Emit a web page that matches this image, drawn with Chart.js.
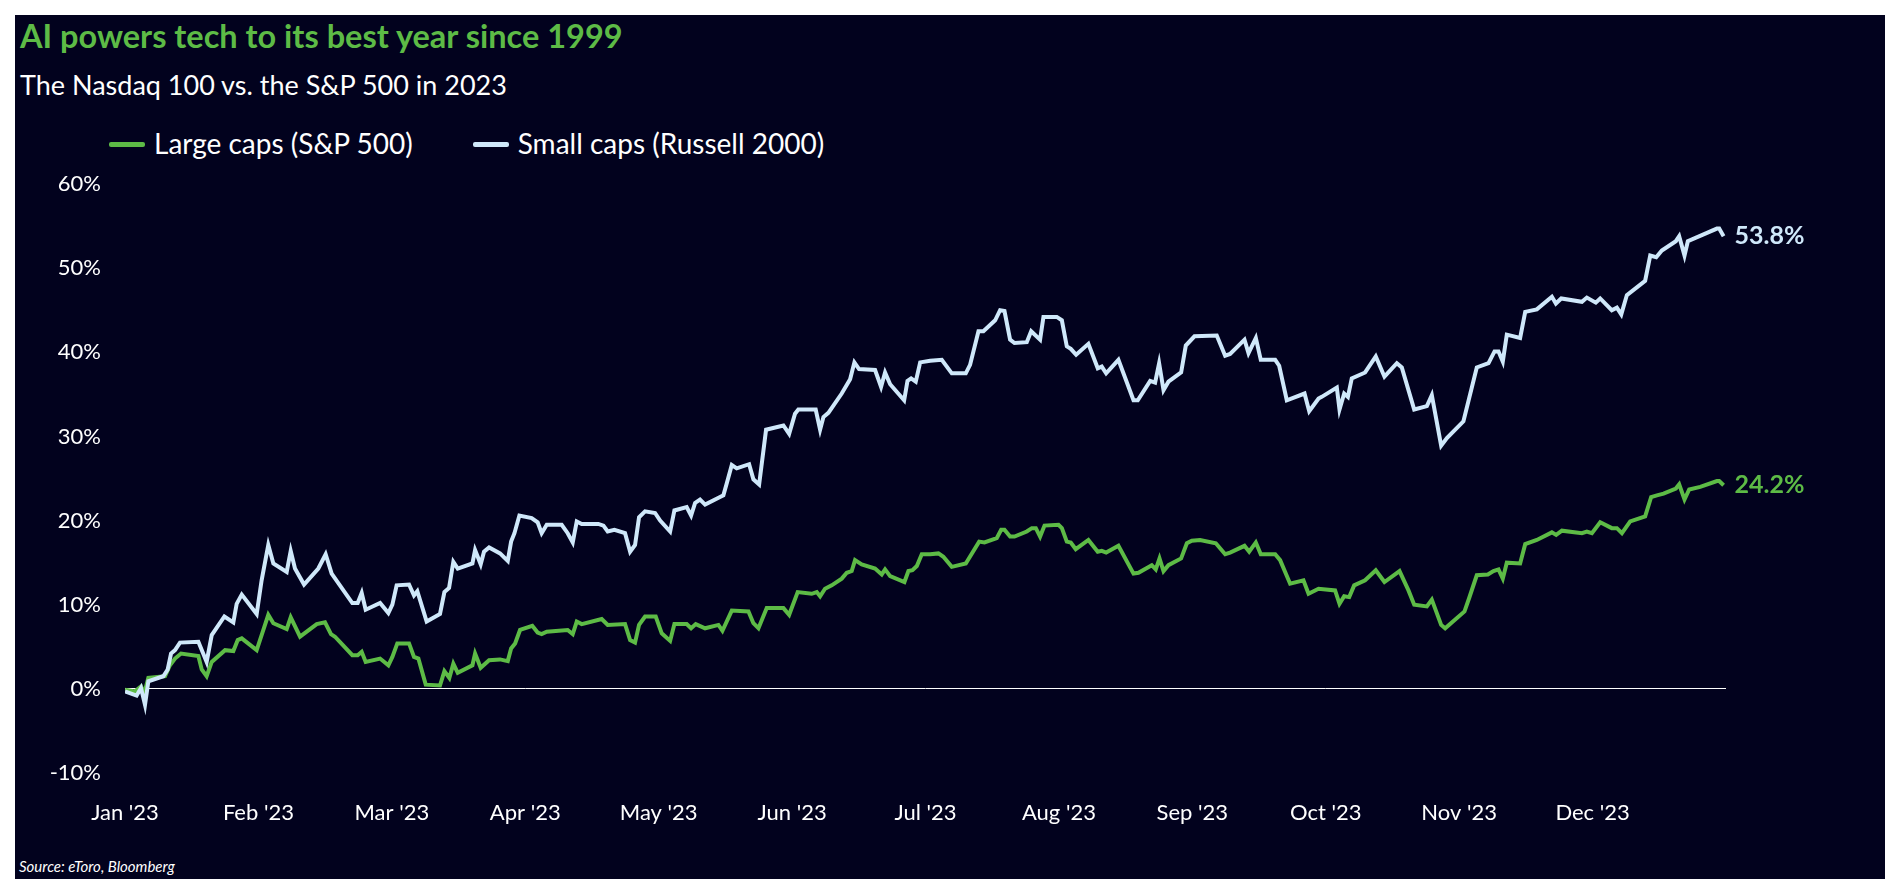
<!DOCTYPE html>
<html>
<head>
<meta charset="utf-8">
<script src="https://cdn.jsdelivr.net/npm/chart.js@4.4.0/dist/chart.umd.min.js"></script>
<style>
  html, body { margin: 0; padding: 0; background: #fff; }
  body { width: 1898px; height: 892px; position: relative; overflow: hidden; font-family: Lato, "Open Sans", sans-serif; }
  #panel { position: absolute; left: 15px; top: 15px; width: 1870px; height: 864px; background: #02021e; }
  .txt { position: absolute; line-height: 1; white-space: nowrap; color: #fff; }
  #title { left: 20px; top: 20px; font-size: 32.5px; font-weight: bold; color: #5dbb46; }
  #subtitle { left: 20px; top: 71px; font-size: 27px; }
  #legend { left: 109px; top: 129px; font-size: 28px; }
  .item { display: inline-block; margin-right: 60px; }
  .swatch { display: inline-block; width: 36px; height: 5px; border-radius: 2px; vertical-align: middle; margin-right: 9px; position: relative; top: -2px; }
  #source { left: 19px; top: 859px; font-size: 15px; font-style: italic; }
  #chart { position: absolute; left: 0; top: 0; }
</style>
</head>
<body>
<div id="panel"></div>
<div class="txt" id="title">AI powers tech to its best year since 1999</div>
<div class="txt" id="subtitle">The Nasdaq 100 vs. the S&amp;P 500 in 2023</div>
<div class="txt" id="legend"></div>
<div class="txt" id="source">Source: eToro, Bloomberg</div>
<canvas id="chart" width="1898" height="892"></canvas>
<script>
// x values are months since 1 Jan 2023, y values are % change
const months = ["Jan '23", "Feb '23", "Mar '23", "Apr '23", "May '23", "Jun '23",
                "Jul '23", "Aug '23", "Sep '23", "Oct '23", "Nov '23", "Dec '23"];

const largeX = [0, 0.075, 0.12, 0.145, 0.175, 0.3, 0.337, 0.375, 0.42, 0.55, 0.575, 0.612, 0.65, 0.75, 0.812, 0.845, 0.875, 0.987, 1.037, 1.074, 1.112, 1.212, 1.242, 1.312, 1.437, 1.499, 1.544, 1.574, 1.704, 1.744, 1.774, 1.804, 1.912,
  1.974, 2.004, 2.041, 2.129, 2.166, 2.199, 2.254, 2.361, 2.394, 2.431, 2.461, 2.494, 2.604, 2.624, 2.666, 2.729, 2.811, 2.869, 2.894, 2.924, 2.961, 3.053, 3.093, 3.123, 3.161, 3.318, 3.356, 3.386, 3.423, 3.573, 3.618, 3.748, 3.786, 3.823, 3.853, 3.898, 3.978,
  4.023, 4.086, 4.118, 4.21, 4.243, 4.278, 4.348, 4.448, 4.478, 4.548, 4.673, 4.71, 4.748, 4.81, 4.935, 4.978, 5.042, 5.147, 5.185, 5.21, 5.247, 5.297, 5.372, 5.41, 5.447, 5.472, 5.522, 5.622, 5.672, 5.697, 5.735, 5.842, 5.872, 5.902, 5.935, 5.972,
  6.035, 6.097, 6.134, 6.197, 6.302, 6.402, 6.442, 6.534, 6.567, 6.592, 6.634, 6.667, 6.759, 6.797, 6.827, 6.859, 6.892, 6.997, 7.022, 7.059, 7.089, 7.126, 7.221, 7.291, 7.321, 7.354, 7.446, 7.559, 7.596, 7.696, 7.726, 7.754, 7.784, 7.821, 7.916, 7.959, 7.996,
  8.058, 8.176, 8.246, 8.283, 8.391, 8.426, 8.476, 8.513, 8.621, 8.658, 8.733, 8.833, 8.871, 8.946, 9.07, 9.103, 9.138, 9.176, 9.213, 9.295, 9.375, 9.44, 9.553, 9.62, 9.663, 9.758, 9.795, 9.865, 9.895, 10.04,
  10.075, 10.132, 10.215, 10.257, 10.295, 10.327, 10.357, 10.457, 10.495, 10.582, 10.695, 10.727, 10.77, 10.92, 10.957, 10.995, 11.057, 11.144, 11.182, 11.22, 11.282, 11.394, 11.439, 11.482, 11.532, 11.624, 11.649, 11.689, 11.724, 11.807, 11.932, 11.949, 11.982];
const largeY = [-0.1, -0.3, 0.3, -0.5, 1.3, 1.5, 2.8, 3.6, 4.2, 3.9, 2.3, 1.5, 3.2, 4.6, 4.5, 5.8, 6.0, 4.6, 7.0, 8.8, 7.8, 7.1, 8.5, 6.2, 7.7, 7.9, 6.5, 6.2, 4.0, 4.0, 4.4, 3.2, 3.6,
  2.8, 3.8, 5.4, 5.4, 3.8, 3.6, 0.5, 0.4, 2.1, 1.3, 3.0, 1.9, 2.8, 4.2, 2.5, 3.4, 3.5, 3.3, 4.8, 5.4, 7.0, 7.5, 6.7, 6.5, 6.8, 7.0, 6.5, 8.0, 7.7, 8.3, 7.6, 7.7, 5.8, 5.5, 7.6, 8.6, 8.6,
  6.6, 5.7, 7.7, 7.7, 7.2, 7.7, 7.2, 7.6, 6.9, 9.3, 9.2, 7.8, 7.2, 9.6, 9.6, 8.8, 11.5, 11.3, 11.5, 11.0, 11.9, 12.3, 13.1, 13.8, 14.0, 15.3, 14.8, 14.3, 13.6, 14.2, 13.4, 12.7, 14.0, 14.1, 14.6, 16.0,
  16.0, 16.1, 15.7, 14.5, 14.9, 17.5, 17.4, 17.9, 18.9, 18.9, 18.1, 18.1, 18.7, 19.1, 19.1, 18.1, 19.4, 19.5, 19.1, 17.5, 17.4, 16.6, 17.7, 16.3, 16.4, 16.2, 17.0, 13.7, 13.8, 14.7, 14.2, 15.5, 14.0, 14.7, 15.5, 17.3, 17.6,
  17.7, 17.3, 16.0, 16.2, 17.0, 16.3, 17.4, 16.0, 16.0, 15.3, 12.5, 12.9, 11.3, 11.9, 11.7, 10.1, 11.0, 10.9, 12.3, 12.9, 14.1, 12.7, 14.0, 11.7, 10.0, 9.8, 10.6, 7.6, 7.2, 9.2,
  10.8, 13.5, 13.6, 14.0, 14.2, 13.1, 15.0, 14.9, 17.2, 17.7, 18.6, 18.3, 18.8, 18.5, 18.7, 18.5, 19.8, 19.1, 19.1, 18.5, 19.9, 20.5, 22.8, 23.0, 23.2, 23.8, 24.3, 22.5, 23.7, 24.0, 24.7, 24.7, 24.2];

const smallX = [0, 0.087, 0.12, 0.15, 0.175, 0.287, 0.32, 0.345, 0.375, 0.412, 0.55, 0.612, 0.65, 0.745, 0.812, 0.837, 0.875, 0.987, 1.024, 1.074, 1.112, 1.212, 1.242, 1.274, 1.342, 1.449, 1.504, 1.549, 1.704, 1.744, 1.774, 1.804, 1.912,
  1.974, 2.004, 2.036, 2.129, 2.166, 2.191, 2.261, 2.361, 2.394, 2.429, 2.461, 2.494, 2.604, 2.624, 2.666, 2.691, 2.729, 2.811, 2.869, 2.894, 2.919, 2.956, 3.048, 3.093, 3.123, 3.161, 3.273, 3.318, 3.356, 3.386, 3.423, 3.548, 3.586, 3.618, 3.668, 3.748, 3.786, 3.823, 3.853, 3.898, 3.973,
  4.011, 4.086, 4.118, 4.21, 4.243, 4.273, 4.31, 4.348, 4.46, 4.485, 4.51, 4.548, 4.585, 4.678, 4.71, 4.753, 4.805, 4.935, 4.978, 5.022, 5.047, 5.177, 5.21, 5.235, 5.272, 5.372, 5.435, 5.467, 5.502, 5.622, 5.667, 5.697, 5.735, 5.84, 5.865, 5.892, 5.927, 5.96,
  6.035, 6.122, 6.197, 6.302, 6.334, 6.397, 6.434, 6.522, 6.559, 6.592, 6.634, 6.667, 6.759, 6.792, 6.859, 6.884, 6.984, 7.022, 7.059, 7.089, 7.129, 7.221, 7.291, 7.321, 7.354, 7.446, 7.559, 7.591, 7.684, 7.721, 7.751, 7.784, 7.821, 7.916, 7.951, 8.016,
  8.183, 8.246, 8.283, 8.391, 8.421, 8.476, 8.513, 8.621, 8.651, 8.708, 8.841, 8.876, 8.946, 8.97, 9.083, 9.103, 9.138, 9.166, 9.195, 9.295, 9.375, 9.44, 9.533, 9.57, 9.62, 9.663, 9.758, 9.795, 9.865, 9.908, 10.032,
  10.132, 10.22, 10.265, 10.295, 10.327, 10.357, 10.457, 10.495, 10.582, 10.695, 10.725, 10.765, 10.92, 10.957, 11.024, 11.057, 11.144, 11.182, 11.215, 11.257, 11.394, 11.432, 11.477, 11.519, 11.624, 11.649, 11.689, 11.714, 11.932, 11.949, 11.982];
const smallY = [-0.3, -0.8, 0.1, -1.9, 0.9, 1.5, 2.3, 4.2, 4.6, 5.5, 5.6, 3.2, 6.4, 8.6, 7.9, 10.1, 11.2, 8.9, 12.9, 17.1, 14.9, 13.9, 16.4, 14.3, 12.4, 14.3, 16.0, 13.7, 10.2, 10.2, 11.4, 9.4, 10.2,
  9.0, 10.0, 12.3, 12.4, 11.1, 11.6, 8.0, 8.9, 11.5, 12.0, 15.1, 14.3, 14.9, 16.5, 14.8, 16.3, 16.8, 16.1, 15.2, 17.5, 18.5, 20.6, 20.3, 19.8, 18.5, 19.5, 19.5, 18.5, 17.4, 19.9, 19.6, 19.6, 19.4, 18.7, 18.9, 18.5, 16.3, 17.1, 20.4, 21.1, 20.9,
  20.0, 18.7, 21.2, 21.6, 20.6, 22.1, 22.5, 21.9, 22.8, 23.0, 24.4, 26.6, 26.2, 26.7, 24.9, 24.3, 30.8, 31.3, 30.3, 32.7, 33.2, 33.2, 30.8, 32.3, 32.8, 35.1, 36.8, 38.8, 38.0, 37.9, 35.9, 37.6, 36.2, 34.3, 36.6, 36.9, 36.5, 38.8,
  39.0, 39.1, 37.5, 37.5, 38.5, 42.5, 42.5, 43.8, 45.0, 44.9, 41.5, 41.1, 41.2, 42.5, 41.5, 44.2, 44.2, 43.8, 40.7, 40.4, 39.7, 41.0, 38.1, 38.3, 37.5, 39.1, 34.3, 34.3, 36.6, 36.4, 38.7, 35.5, 36.5, 37.6, 40.8, 41.9,
  42.0, 39.6, 39.8, 41.5, 39.9, 41.7, 39.1, 39.1, 38.4, 34.3, 35.1, 33.0, 34.5, 34.7, 35.8, 33.2, 35.1, 34.7, 36.9, 37.6, 39.5, 37.1, 38.7, 38.2, 35.5, 33.2, 33.6, 34.9, 28.9, 29.8, 31.8,
  38.2, 38.7, 40.1, 40.1, 38.9, 42.1, 41.7, 44.8, 45.1, 46.6, 45.8, 46.4, 46.0, 46.5, 45.9, 46.4, 45.0, 45.3, 44.5, 46.8, 48.5, 51.5, 51.3, 52.1, 53.2, 53.8, 51.5, 53.2, 54.7, 54.7, 53.8];

const seriesNames = ['Large caps (S&P 500)', 'Small caps (Russell 2000)'];
const seriesColors = ['#5dbb46', '#cfe8fa'];

const fontFamily = 'Lato, "Open Sans", sans-serif';

function toPoints(xs, ys) {
    return xs.map((x, i) => ({ x: x, y: ys[i] }));
}

// Legend drawn as html so it sits where the original has it
let legendHtml = '';
seriesNames.forEach((name, i) => {
    legendHtml += `<span class="item"><span class="swatch" style="background:${seriesColors[i]}"></span>${name}</span>`;
});
document.getElementById('legend').innerHTML = legendHtml;

// Value labels at the end of each line
const endLabelPlugin = {
    id: 'endLabels',
    afterDatasetsDraw(chart) {
        const ctx = chart.ctx;
        chart.data.datasets.forEach((ds, i) => {
            const meta = chart.getDatasetMeta(i);
            const last = meta.data[meta.data.length - 1];
            const value = ds.data[ds.data.length - 1].y;
            ctx.save();
            ctx.font = 'bold 25px ' + fontFamily;
            ctx.fillStyle = ds.borderColor;
            ctx.textAlign = 'left';
            ctx.textBaseline = 'middle';
            ctx.fillText(value.toFixed(1) + '%', last.x + 11, last.y);
            ctx.restore();
        });
    }
};

new Chart(document.getElementById('chart'), {
    type: 'line',
    data: {
        datasets: [{
            label: seriesNames[0],
            data: toPoints(largeX, largeY),
            borderColor: seriesColors[0],
            borderWidth: 4,
            pointRadius: 0,
            tension: 0,
            order: 1
        }, {
            label: seriesNames[1],
            data: toPoints(smallX, smallY),
            borderColor: seriesColors[1],
            borderWidth: 4,
            pointRadius: 0,
            tension: 0,
            order: 0
        }]
    },
    options: {
        responsive: false,
        animation: false,
        layout: { padding: { left: 20, right: 172, top: 184, bottom: 59 } },
        plugins: {
            legend: { display: false },
            tooltip: { enabled: false }
        },
        scales: {
            x: {
                type: 'linear',
                min: 0,
                max: 12,
                afterBuildTicks: scale => { scale.ticks = months.map((m, i) => ({ value: i })); },
                afterFit: scale => { scale.height = 60; },
                grid: { display: false, drawTicks: false },
                border: { display: false },
                ticks: {
                    autoSkip: false,
                    maxRotation: 0,
                    padding: 27,
                    color: '#fff',
                    font: { family: fontFamily, size: 22 },
                    callback: v => months[v]
                }
            },
            y: {
                min: -10,
                max: 60,
                afterFit: scale => { scale.width = 105; },
                grid: {
                    drawTicks: false,
                    lineWidth: 1,
                    color: c => (c.tick && c.tick.value === 0) ? '#ffffff' : 'rgba(0,0,0,0)'
                },
                border: { display: false },
                ticks: {
                    stepSize: 10,
                    padding: 24,
                    color: '#fff',
                    font: { family: fontFamily, size: 22 },
                    callback: v => v + '%'
                }
            }
        }
    },
    plugins: [endLabelPlugin]
});
</script>
</body>
</html>
